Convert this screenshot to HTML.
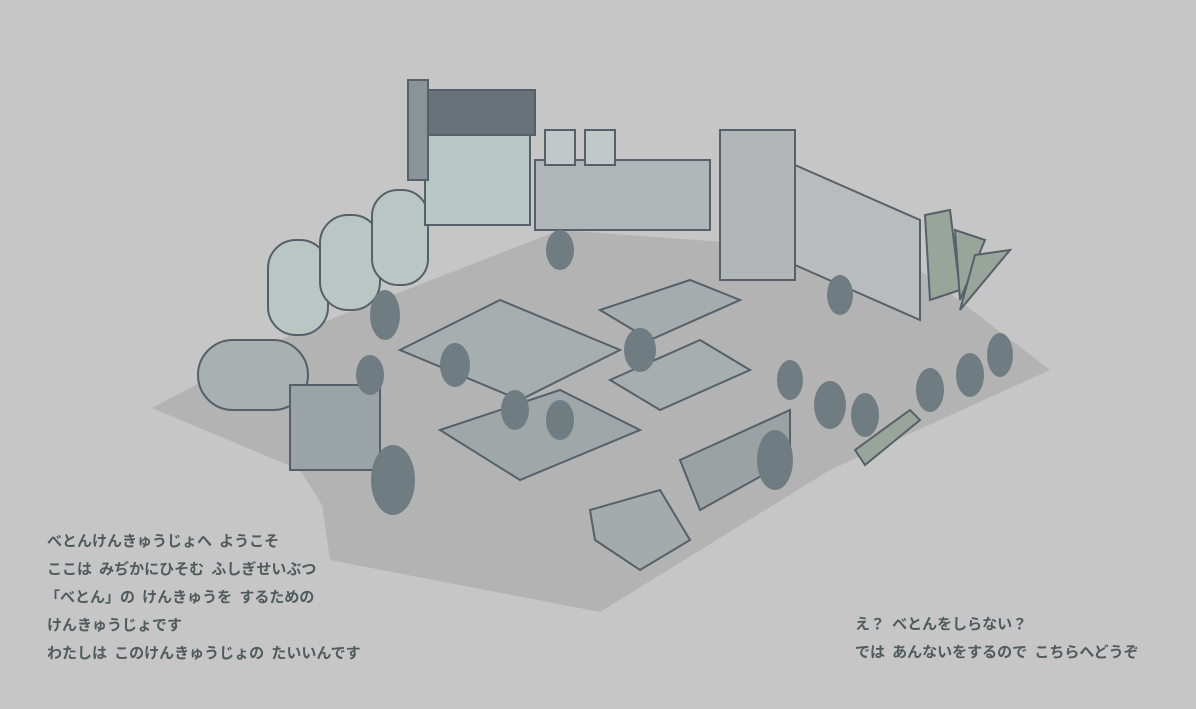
<!DOCTYPE html>
<html><head><meta charset="utf-8"><style>
html,body{margin:0;padding:0;}
body{width:1196px;height:709px;background:#c6c6c6;position:relative;overflow:hidden;font-family:"Liberation Sans","Noto Sans CJK JP",sans-serif;}
.t{position:absolute;color:#4f5b5e;font-size:15px;font-weight:bold;letter-spacing:0;word-spacing:3px;white-space:pre;line-height:20px;}
svg{position:absolute;left:0;top:0;}
</style></head><body>
<svg width="1196" height="709" viewBox="0 0 1196 709">
<polygon points="152,408 290,335 560,230 900,255 1050,370 830,470 600,612 330,560 322,505 300,470" fill="#b3b3b3"/>
<rect x="198" y="340" width="110" height="70" rx="35" fill="#a9b0b1" stroke="#55606a" stroke-width="2"/>
<rect x="290" y="385" width="90" height="85" fill="#9aa3a5" stroke="#55606a" stroke-width="2"/>
<g stroke="#55606a" stroke-width="2">
<rect x="268" y="240" width="60" height="95" rx="28" fill="#b9c6c4"/>
<rect x="320" y="215" width="60" height="95" rx="28" fill="#b9c6c4"/>
<rect x="372" y="190" width="56" height="95" rx="26" fill="#b9c6c4"/>
<rect x="425" y="130" width="105" height="95" fill="#b7c7c3"/>
<rect x="420" y="90" width="115" height="45" fill="#6a7279"/>
<rect x="408" y="80" width="20" height="100" fill="#8a9398"/>
<rect x="535" y="160" width="175" height="70" fill="#b0b6b8"/>
<rect x="545" y="130" width="30" height="35" fill="#c2c7c8"/>
<rect x="585" y="130" width="30" height="35" fill="#c2c7c8"/>
<rect x="720" y="130" width="75" height="150" fill="#b2b6b7"/>
<polygon points="795,165 920,220 920,320 795,265" fill="#b8bcbc"/>
<polygon points="400,350 500,300 620,350 520,400" fill="#a7aeaf"/>
<polygon points="440,430 560,390 640,430 520,480" fill="#9fa7a9"/>
<polygon points="600,310 690,280 740,300 650,340" fill="#a4acae"/>
<polygon points="610,380 700,340 750,370 660,410" fill="#a7aeaf"/>
<polygon points="680,460 790,410 790,460 700,510" fill="#9ba2a4"/>
<polygon points="590,510 660,490 690,540 640,570 595,540" fill="#a5abab"/>
</g>
<g fill="#99a59a" stroke="#55606a" stroke-width="2">
<polygon points="925,215 950,210 960,290 930,300"/>
<polygon points="955,230 985,240 960,300"/>
<polygon points="975,255 1010,250 960,310"/>
<polygon points="855,450 910,410 920,420 865,465"/>
</g>
<g fill="#6f7c82">
<ellipse cx="393" cy="480" rx="22" ry="35"/>
<ellipse cx="385" cy="315" rx="15" ry="25"/>
<ellipse cx="455" cy="365" rx="15" ry="22"/>
<ellipse cx="515" cy="410" rx="14" ry="20"/>
<ellipse cx="560" cy="420" rx="14" ry="20"/>
<ellipse cx="640" cy="350" rx="16" ry="22"/>
<ellipse cx="775" cy="460" rx="18" ry="30"/>
<ellipse cx="830" cy="405" rx="16" ry="24"/>
<ellipse cx="865" cy="415" rx="14" ry="22"/>
<ellipse cx="930" cy="390" rx="14" ry="22"/>
<ellipse cx="970" cy="375" rx="14" ry="22"/>
<ellipse cx="1000" cy="355" rx="13" ry="22"/>
<ellipse cx="790" cy="380" rx="13" ry="20"/>
<ellipse cx="840" cy="295" rx="13" ry="20"/>
<ellipse cx="560" cy="250" rx="14" ry="20"/>
<ellipse cx="370" cy="375" rx="14" ry="20"/>
</g>
</svg>
<div class="t" style="left:47px;top:532px">べとんけんきゅうじょへ ようこそ</div>
<div class="t" style="left:47px;top:560px">ここは みぢかにひそむ ふしぎせいぶつ</div>
<div class="t" style="left:45px;top:588px">「べとん」の けんきゅうを するための</div>
<div class="t" style="left:47px;top:616px">けんきゅうじょです</div>
<div class="t" style="left:47px;top:644px">わたしは このけんきゅうじょの たいいんです</div>
<div class="t" style="left:855px;top:615px">え？ べとんをしらない？</div>
<div class="t" style="left:855px;top:643px">では あんないをするので こちらへどうぞ</div>
</body></html>
